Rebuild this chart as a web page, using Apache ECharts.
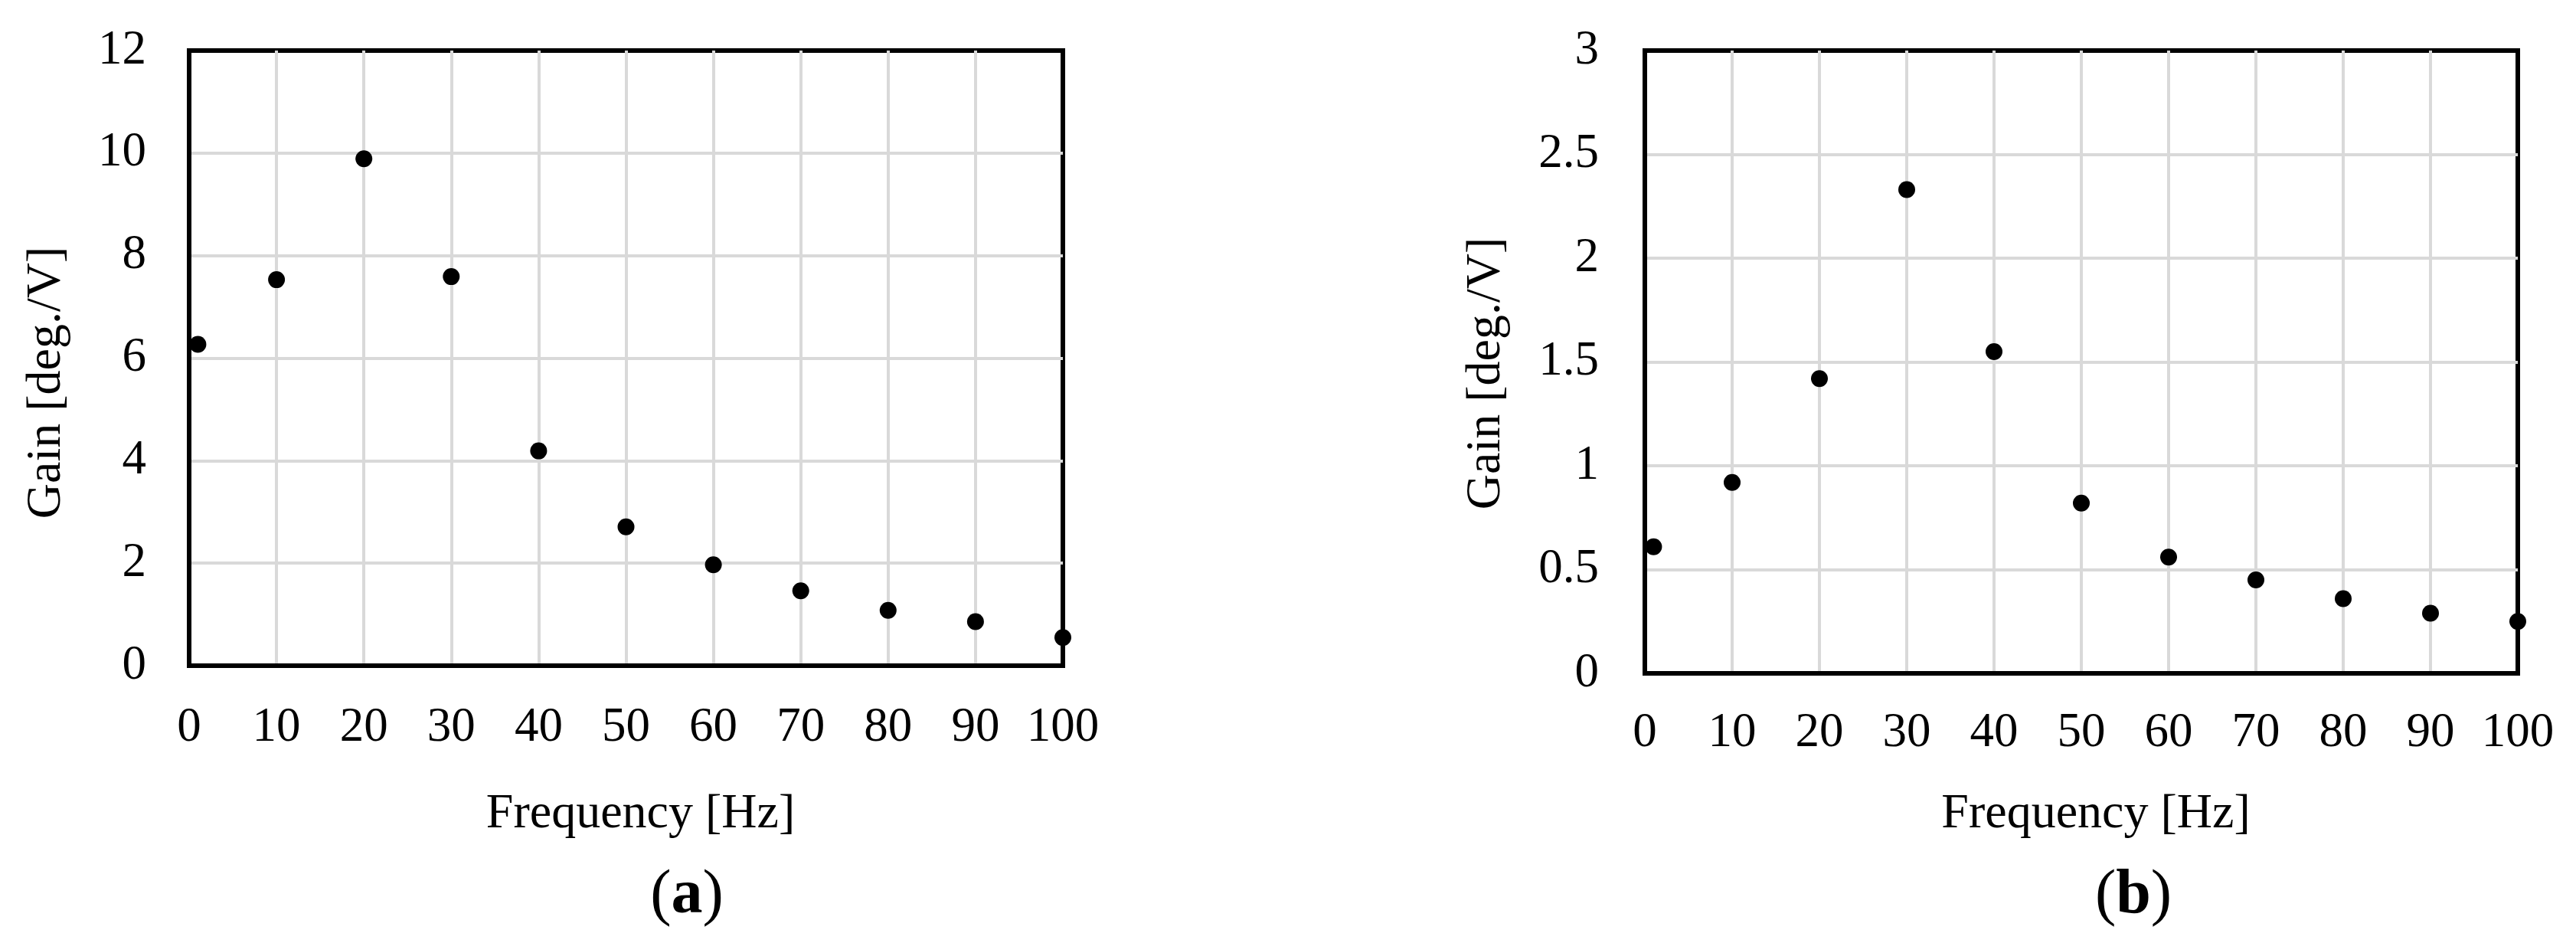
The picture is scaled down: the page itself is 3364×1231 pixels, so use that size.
<!DOCTYPE html>
<html>
<head>
<meta charset="utf-8">
<title>Gain vs frequency</title>
<script src="https://cdn.jsdelivr.net/npm/echarts@6.0.0/dist/echarts.min.js"></script>
<style>
  html, body { margin: 0; padding: 0; background: #fff; }
  #main { width: 3364px; height: 1231px; }
</style>
</head>
<body>
<div id="main"></div>
<script>
const freq = [1, 10, 20, 30, 40, 50, 60, 70, 80, 90, 100];
const gainA = [6.27, 7.53, 9.89, 7.59, 4.19, 2.71, 1.97, 1.46, 1.08, 0.86, 0.55];
const gainB = [0.61, 0.92, 1.42, 2.33, 1.55, 0.82, 0.56, 0.45, 0.36, 0.29, 0.25];

// tick labels
const xTicks = [0, 10, 20, 30, 40, 50, 60, 70, 80, 90, 100];
const yTicksA = [0, 2, 4, 6, 8, 10, 12];
const yTicksB = [0, 0.5, 1, 1.5, 2, 2.5, 3];

const xTitle = 'Frequency [Hz]';
const yTitle = 'Gain [deg./V]';
const panelLabels = ['a', 'b'];

const font = 'Liberation Serif';

const range = (ticks) => ({
  min: ticks[0],
  max: ticks[ticks.length - 1],
  interval: ticks[1] - ticks[0]
});

const gridLine = {
  show: true,
  showMinLine: false,
  showMaxLine: false,
  lineStyle: { color: '#d9d9d9', width: 4 }
};

const makeXAxis = (gridIndex, labelMargin, nameGap) => ({
  gridIndex: gridIndex,
  type: 'value',
  ...range(xTicks),
  name: xTitle,
  nameLocation: 'middle',
  nameGap: nameGap,
  // the title sits a little right of the plot centre
  nameTextStyle: { fontFamily: font, fontSize: 64, color: '#000', padding: [0, 0, 0, 38] },
  axisLine: { show: true, onZero: false, lineStyle: { color: '#000', width: 6 } },
  axisTick: { show: false },
  axisLabel: { fontFamily: font, fontSize: 63, color: '#000', margin: labelMargin },
  splitLine: gridLine
});

const makeYAxis = (gridIndex, ticks, labelMargin, nameGap, shift) => ({
  gridIndex: gridIndex,
  type: 'value',
  ...range(ticks),
  name: yTitle,
  nameLocation: 'middle',
  nameGap: nameGap,
  nameTextStyle: {
    fontFamily: font, fontSize: 64, color: '#000',
    padding: [0, shift, 0, 0]
  },
  axisLine: { show: true, lineStyle: { color: '#000', width: 6 } },
  axisTick: { show: false },
  axisLabel: { fontFamily: font, fontSize: 63, color: '#000', margin: labelMargin },
  splitLine: gridLine
});

const makeSeries = (index, values) => ({
  type: 'scatter',
  xAxisIndex: index,
  yAxisIndex: index,
  symbol: 'circle',
  symbolSize: 22,
  itemStyle: { color: '#000', opacity: 1 },
  data: freq.map((f, i) => [f, values[i]])
});

function panelStyle(letter) {
  return {
    text: '({b|' + letter + '})',
    fontFamily: font,
    fontSize: 82,
    fill: '#000',
    align: 'center',
    verticalAlign: 'middle',
    rich: {
      b: { fontFamily: font, fontSize: 82, fontWeight: 'bold', fill: '#000' }
    }
  };
}

const chart = echarts.init(document.getElementById('main'), null, { renderer: 'canvas' });

chart.setOption({
  backgroundColor: '#fff',
  animation: false,
  grid: [
    { left: 247, top: 66, width: 1141, height: 803, show: true, borderColor: '#000', borderWidth: 6, containLabel: false, outerBoundsMode: 'none' },
    { left: 2148, top: 66, width: 1140, height: 813, show: true, borderColor: '#000', borderWidth: 6, containLabel: false, outerBoundsMode: 'none' }
  ],
  xAxis: [
    makeXAxis(0, 50, 162),
    makeXAxis(1, 47, 152)
  ],
  yAxis: [
    makeYAxis(0, yTicksA, 56, 154, 64),
    makeYAxis(1, yTicksB, 60, 175, 30)
  ],
  graphic: [
    { type: 'text', x: 897, y: 1170, style: panelStyle(panelLabels[0]) },
    { type: 'text', x: 2786, y: 1170, style: panelStyle(panelLabels[1]) }
  ],
  series: [
    makeSeries(0, gainA),
    makeSeries(1, gainB)
  ]
});
</script>
</body>
</html>
